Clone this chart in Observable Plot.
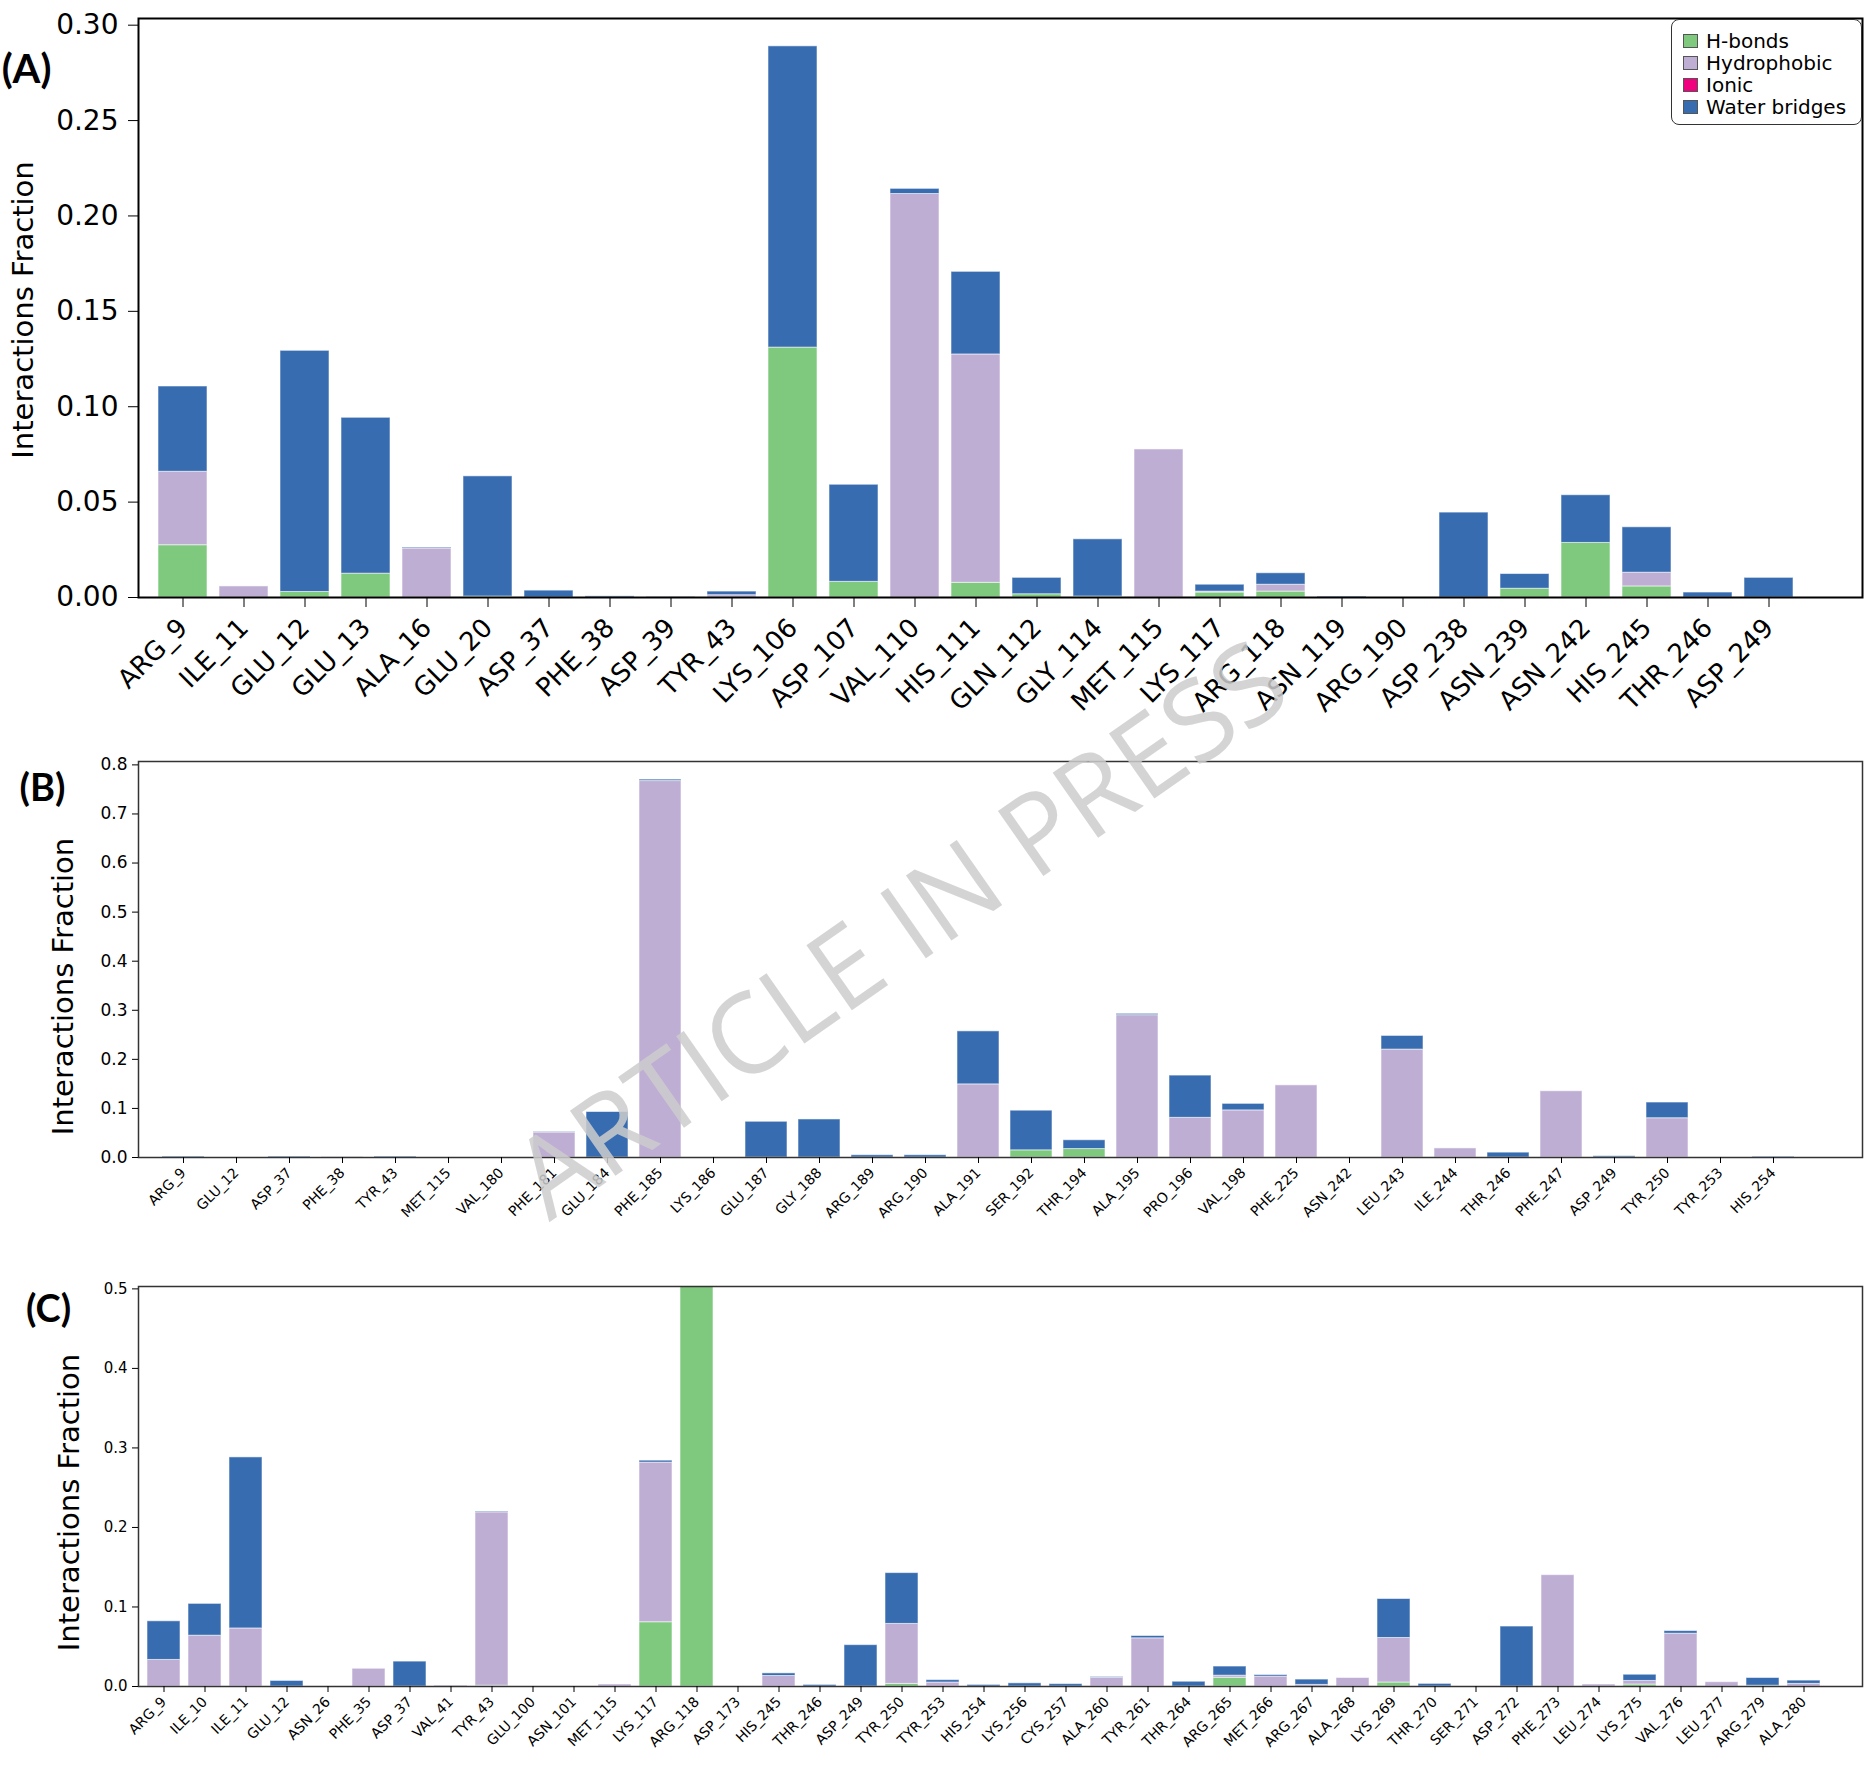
<!DOCTYPE html>
<html>
<head>
<meta charset="utf-8">
<script src="https://cdn.jsdelivr.net/npm/d3@7"></script>
<script src="https://cdn.jsdelivr.net/npm/@observablehq/plot@0.6"></script>
<style>
  html, body { margin: 0; padding: 0; background: #fff; }
  body { width: 1876px; height: 1784px; position: relative; overflow: hidden; font-family: "DejaVu Sans", sans-serif; }
  .panel { position: absolute; left: 0; }
  #wm { position: absolute; left: 898px; top: 926px; transform: translate(-50%, -50%) rotate(-35deg);
        font-family: "Open Sans", sans-serif; font-size: 111px; line-height: 1; color: rgba(205,205,205,0.85);
        white-space: nowrap; pointer-events: none; }
  #legend { position: absolute; left: 1671px; top: 19px; width: 191px; height: 106px; border: 1.5px solid #333;
            border-radius: 8px; background: #fff; box-sizing: border-box; font-family: "DejaVu Sans", sans-serif; font-size: 20px; }
  #legend .item { position: absolute; left: 11px; height: 22px; display: flex; align-items: center; }
  #legend .sw { width: 15px; height: 14px; border: 1px solid #555; margin-right: 8px; box-sizing: border-box; }
</style>
</head>
<body>
<div id="A" class="panel" style="top:0px"></div>
<div id="B" class="panel" style="top:740px"></div>
<div id="C" class="panel" style="top:1250px"></div>
<div id="legend"></div>
<div id="wm">ARTICLE IN PRESS</div>
<script>
// ---------- shared ----------
const interactionTypes = ["H-bonds", "Hydrophobic", "Ionic", "Water bridges"];
const interactionColors = ["#7fc97f", "#beaed4", "#f0027f", "#386cb0"];
const yLabelText = "Interactions Fraction";

// ---------- panel A ----------
const residuesA = ["ARG_9","ILE_11","GLU_12","GLU_13","ALA_16","GLU_20","ASP_37","PHE_38","ASP_39","TYR_43",
  "LYS_106","ASP_107","VAL_110","HIS_111","GLN_112","GLY_114","MET_115","LYS_117","ARG_118","ASN_119",
  "ARG_190","ASP_238","ASN_239","ASN_242","HIS_245","THR_246","ASP_249"];
const hbondsA =      [0.0274,0,0.0029,0.0125,0,0.0005,0,0,0,0, 0.131,0.0082,0,0.0077,0.0017,0.0005,0,0.0026,0.0031,0, 0,0,0.0046,0.0286,0.0058,0,0];
const hydrophobicA = [0.0385,0.0058,0,0,0.0257,0,0,0,0,0.0012, 0,0,0.2115,0.1197,0,0,0.0776,0.0005,0.0036,0, 0,0,0,0,0.0072,0,0];
const ionicA =       [0,0,0,0,0,0,0,0,0,0, 0,0,0,0,0,0,0,0,0,0, 0,0,0,0,0,0,0];
const waterA =       [0.0447,0,0.1264,0.0817,0.0005,0.063,0.0036,0.0006,0.0002,0.0019, 0.1579,0.0509,0.0027,0.0433,0.0086,0.03,0,0.0036,0.006,0.0005, 0,0.0445,0.0077,0.025,0.0238,0.0026,0.0103];
const yTicksA = [0, 0.05, 0.10, 0.15, 0.20, 0.25, 0.30];

// ---------- panel B ----------
const residuesB = ["ARG_9","GLU_12","ASP_37","PHE_38","TYR_43","MET_115","VAL_180","PHE_181","GLU_184","PHE_185",
  "LYS_186","GLU_187","GLY_188","ARG_189","ARG_190","ALA_191","SER_192","THR_194","ALA_195","PRO_196",
  "VAL_198","PHE_225","ASN_242","LEU_243","ILE_244","THR_246","PHE_247","ASP_249","TYR_250","TYR_253","HIS_254"];
const hbondsB =      [0,0,0,0,0,0,0,0,0,0, 0,0,0,0,0,0,0.0146,0.0172,0,0, 0,0,0,0,0,0,0,0,0,0,0];
const hydrophobicB = [0,0,0,0.001,0,0,0,0.051,0,0.767, 0,0,0,0,0,0.149,0,0,0.290,0.0808, 0.096,0.147,0,0.2199,0.0185,0,0.135,0,0.080,0,0];
const ionicB =       [0,0,0,0,0,0,0,0,0,0, 0,0,0,0,0,0,0,0,0,0, 0,0,0,0,0,0,0,0,0,0,0];
const waterB =       [0.002,0,0.002,0,0.002,0,0,0.001,0.0927,0.003, 0,0.0728,0.0775,0.0046,0.0046,0.108,0.0808,0.0179,0.0027,0.0861, 0.0133,0,0,0.0278,0,0.0099,0,0.0026,0.032,0,0.0015];
const yTicksB = [0, 0.1, 0.2, 0.3, 0.4, 0.5, 0.6, 0.7, 0.8];

// ---------- panel C ----------
const residuesC = ["ARG_9","ILE_10","ILE_11","GLU_12","ASN_26","PHE_35","ASP_37","VAL_41","TYR_43","GLU_100",
  "ASN_101","MET_115","LYS_117","ARG_118","ASP_173","HIS_245","THR_246","ASP_249","TYR_250","TYR_253",
  "HIS_254","LYS_256","CYS_257","ALA_260","TYR_261","THR_264","ARG_265","MET_266","ARG_267","ALA_268",
  "LYS_269","THR_270","SER_271","ASP_272","PHE_273","LEU_274","LYS_275","VAL_276","LEU_277","ARG_279","ALA_280"];
const hbondsC =      [0,0,0,0,0,0,0,0,0.001,0, 0,0,0.0808,0.503,0,0,0,0,0.0033,0, 0,0,0,0,0,0,0.011,0,0,0, 0.005,0,0,0,0,0,0.0025,0,0,0.001,0];
const hydrophobicC = [0.0334,0.0639,0.073,0,0,0.0223,0,0.0012,0.218,0, 0,0.0025,0.2007,0,0,0.0132,0,0,0.0754,0.005, 0,0,0,0.011,0.0606,0,0.0026,0.0124,0.002,0.0107, 0.056,0,0,0,0.140,0.0025,0.0045,0.0664,0.0054,0,0.0033];
const ionicC =       [0,0,0,0,0,0,0,0,0,0, 0,0,0,0,0,0,0,0,0,0, 0,0,0,0,0,0,0,0,0,0, 0,0,0,0,0,0,0,0,0,0,0];
const waterC =       [0.0486,0.04,0.2151,0.007,0,0,0.0313,0,0.001,0, 0,0,0.0025,0,0,0.0033,0.002,0.052,0.0639,0.003, 0.002,0.004,0.003,0.001,0.0029,0.006,0.0115,0.002,0.0067,0, 0.049,0.0033,0,0.0754,0,0,0.0078,0.0033,0,0.0097,0.0041];
const yTicksC = [0, 0.1, 0.2, 0.3, 0.4, 0.5];

function buildPanel(cfg) {
  const series = [cfg.hb, cfg.hp, cfg.ion, cfg.wb];
  const rows = [];
  cfg.names.forEach((n, i) => {
    series.forEach((arr, k) => {
      if (arr[i] > 0) rows.push({res: n, type: interactionTypes[k], value: arr[i]});
    });
  });
  return Plot.plot({
    width: 1876,
    height: cfg.height,
    marginTop: cfg.mt,
    marginBottom: cfg.mb,
    marginLeft: 138,
    marginRight: 14,
    style: {fontFamily: "DejaVu Sans, sans-serif", background: "white", color: "black"},
    x: {type: "band", domain: cfg.names, range: cfg.xRange, paddingInner: 0.2, paddingOuter: 0.1, align: 0.5},
    y: {domain: cfg.yDomain},
    color: {domain: interactionTypes, range: interactionColors},
    marks: [
      Plot.barY(rows, {x: "res", y: "value", fill: "type", stroke: "white", strokeOpacity: 0.55, strokeWidth: 1}),
      Plot.frame({stroke: cfg.frameColor, strokeWidth: cfg.frameWidth}),
      Plot.axisY({ticks: cfg.yTicks, tickFormat: d3.format(cfg.fmt), tickSize: cfg.tickSize, tickPadding: cfg.yPad,
                  fontSize: cfg.yFont, label: null}),
      Plot.axisX({tickRotate: -45, tickSize: cfg.tickSize, tickPadding: cfg.xPad, fontSize: cfg.xFont, label: null}),
      Plot.text([yLabelText], {text: d => d, frameAnchor: "left", textAnchor: "middle", lineAnchor: "middle",
                  rotate: -90, dx: cfg.labDx, dy: cfg.labDy, fontSize: 29, fill: "black"}),
      Plot.text([cfg.tag], {text: d => d, frameAnchor: "top-left", textAnchor: "middle", lineAnchor: "middle",
                  dx: cfg.tagDx, dy: cfg.tagDy, fontSize: cfg.tagSize, fontWeight: "bold",
                  fontFamily: "Lato, Open Sans, sans-serif", fill: "black"})
    ]
  });
}

document.getElementById("A").append(buildPanel({
  names: residuesA, hb: hbondsA, hp: hydrophobicA, ion: ionicA, wb: waterA,
  height: 740, mt: 18, mb: 143, xRange: [144.85, 1805.35], yDomain: [0, 0.3035], yTicks: yTicksA, fmt: ".2f",
  frameColor: "black", frameWidth: 2, tickSize: 10, yPad: 10, xPad: 16, yFont: 28, xFont: 26,
  labDx: -115, labDy: 2, tag: "(A)", tagDx: -112, tagDy: 52, tagSize: 40
}));
document.getElementById("B").append(buildPanel({
  names: residuesB, hb: hbondsB, hp: hydrophobicB, ion: ionicB, wb: waterB,
  height: 510, mt: 21, mb: 93, xRange: [144.6, 1812.4], yDomain: [0, 0.8069], yTicks: yTicksB, fmt: ".1f",
  frameColor: "#333", frameWidth: 1.5, tickSize: 6, yPad: 5, xPad: 7, yFont: 17, xFont: 14,
  labDx: -75, labDy: 27, tag: "(B)", tagDx: -96, tagDy: 27, tagSize: 38
}));
document.getElementById("C").append(buildPanel({
  names: residuesC, hb: hbondsC, hp: hydrophobicC, ion: ionicC, wb: waterC,
  height: 534, mt: 36, mb: 98, xRange: [142.5, 1824.1], yDomain: [0, 0.503], yTicks: yTicksC, fmt: ".1f",
  frameColor: "#333", frameWidth: 1.5, tickSize: 6, yPad: 5, xPad: 7, yFont: 15, xFont: 14,
  labDx: -69, labDy: 16, tag: "(C)", tagDx: -90, tagDy: 23, tagSize: 38
}));

// legend for panel A
const legend = document.getElementById("legend");
interactionTypes.forEach((t, i) => {
  const item = document.createElement("div");
  item.className = "item";
  item.style.top = (10 + i * 22) + "px";
  const sw = document.createElement("span");
  sw.className = "sw";
  sw.style.background = interactionColors[i];
  const lab = document.createElement("span");
  lab.textContent = t;
  item.append(sw, lab);
  legend.append(item);
});
</script>
</body>
</html>
